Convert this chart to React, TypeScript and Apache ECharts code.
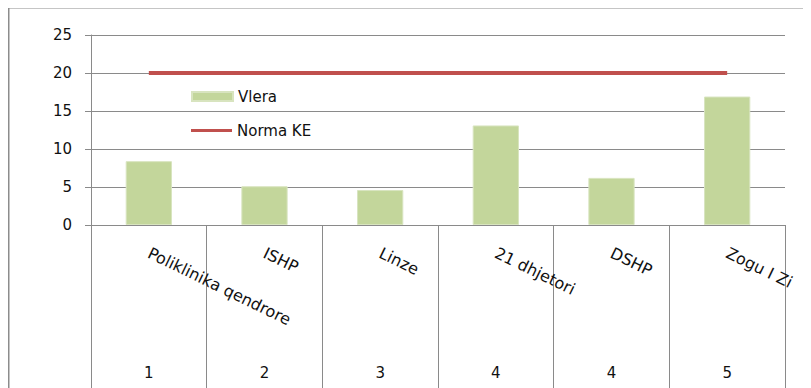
import React, { useEffect, useRef } from "react";
import * as echarts from "echarts";

const categories = ["Poliklinika qendrore", "ISHP", "Linze", "21 dhjetori", "DSHP", "Zogu I Zi"];
const levels = ["1", "2", "3", "4", "4", "5"];
const vlera = [8.4, 5.1, 4.6, 13.1, 6.2, 16.9];
const normaKE = [20, 20, 20, 20, 20, 20];
const yTicks = { min: 0, max: 25, interval: 5 };

const FONT = "DejaVu Sans";
const GRID_COLOR = "#8a8a8a";
const BAR_COLOR = "#C3D69B";
const LINE_COLOR = "#C0504D";

export default function App() {
  const ref = useRef<HTMLDivElement>(null);

  useEffect(() => {
    if (!ref.current) return;
    const chart = echarts.init(ref.current, undefined, { renderer: "svg" });
    chart.setOption({
      animation: false,
      backgroundColor: "#ffffff",
      textStyle: { fontFamily: FONT },
      grid: { left: 83, right: 26, top: 27, bottom: 163, containLabel: false },
      legend: [
        {
          data: [{ name: "Vlera", icon: "rect" }],
          left: 178,
          top: 76,
          itemWidth: 41,
          itemHeight: 9,
          itemGap: 6,
          textStyle: { fontFamily: FONT, fontSize: 15, color: "#111" },
        },
        {
          data: [{ name: "Norma KE", icon: "rect", itemStyle: { color: LINE_COLOR } }],
          left: 178,
          top: 110,
          itemWidth: 41,
          itemHeight: 3,
          itemGap: 6,
          textStyle: { fontFamily: FONT, fontSize: 15, color: "#111" },
        },
      ],
      xAxis: [
        {
          type: "category",
          data: categories,
          position: "bottom",
          axisLine: { show: true, lineStyle: { color: GRID_COLOR, width: 1 } },
          axisTick: {
            show: true,
            interval: 0,
            length: 170,
            lineStyle: { color: GRID_COLOR, width: 1 },
          },
          axisLabel: {
            interval: 0,
            rotate: -26,
            margin: 27,
            fontFamily: FONT,
            fontSize: 16,
            color: "#111",
          },
        },
        {
          type: "category",
          data: levels,
          position: "bottom",
          offset: 136,
          axisLine: { show: false },
          axisTick: { show: false },
          axisLabel: {
            interval: 0,
            margin: 4,
            fontFamily: FONT,
            fontSize: 15,
            color: "#111",
          },
        },
      ],
      yAxis: {
        type: "value",
        min: yTicks.min,
        max: yTicks.max,
        interval: yTicks.interval,
        axisLine: { show: true, lineStyle: { color: GRID_COLOR, width: 1 } },
        axisTick: { show: true, length: 6, lineStyle: { color: GRID_COLOR } },
        splitLine: { show: true, lineStyle: { color: GRID_COLOR, width: 1 } },
        axisLabel: {
          margin: 19,
          fontFamily: FONT,
          fontSize: 15,
          color: "#111",
        },
      },
      series: [
        {
          name: "Vlera",
          type: "bar",
          data: vlera,
          barWidth: "40%",
          itemStyle: { color: BAR_COLOR, borderColor: "#D8E4BF", borderWidth: 1 },
        },
        {
          name: "Norma KE",
          type: "line",
          data: normaKE,
          symbol: "none",
          lineStyle: { color: LINE_COLOR, width: 4 },
          itemStyle: { color: LINE_COLOR },
        },
      ],
      graphic: [
        {
          type: "rect",
          silent: true,
          z: 100,
          shape: { x: 0.5, y: -0.5, width: 800, height: 420 },
          style: { fill: "none", stroke: "#8c8c8c", lineWidth: 2 },
        },
      ],
    });
    return () => chart.dispose();
  }, []);

  return <div ref={ref} style={{ width: 803, height: 380 }} />;
}
